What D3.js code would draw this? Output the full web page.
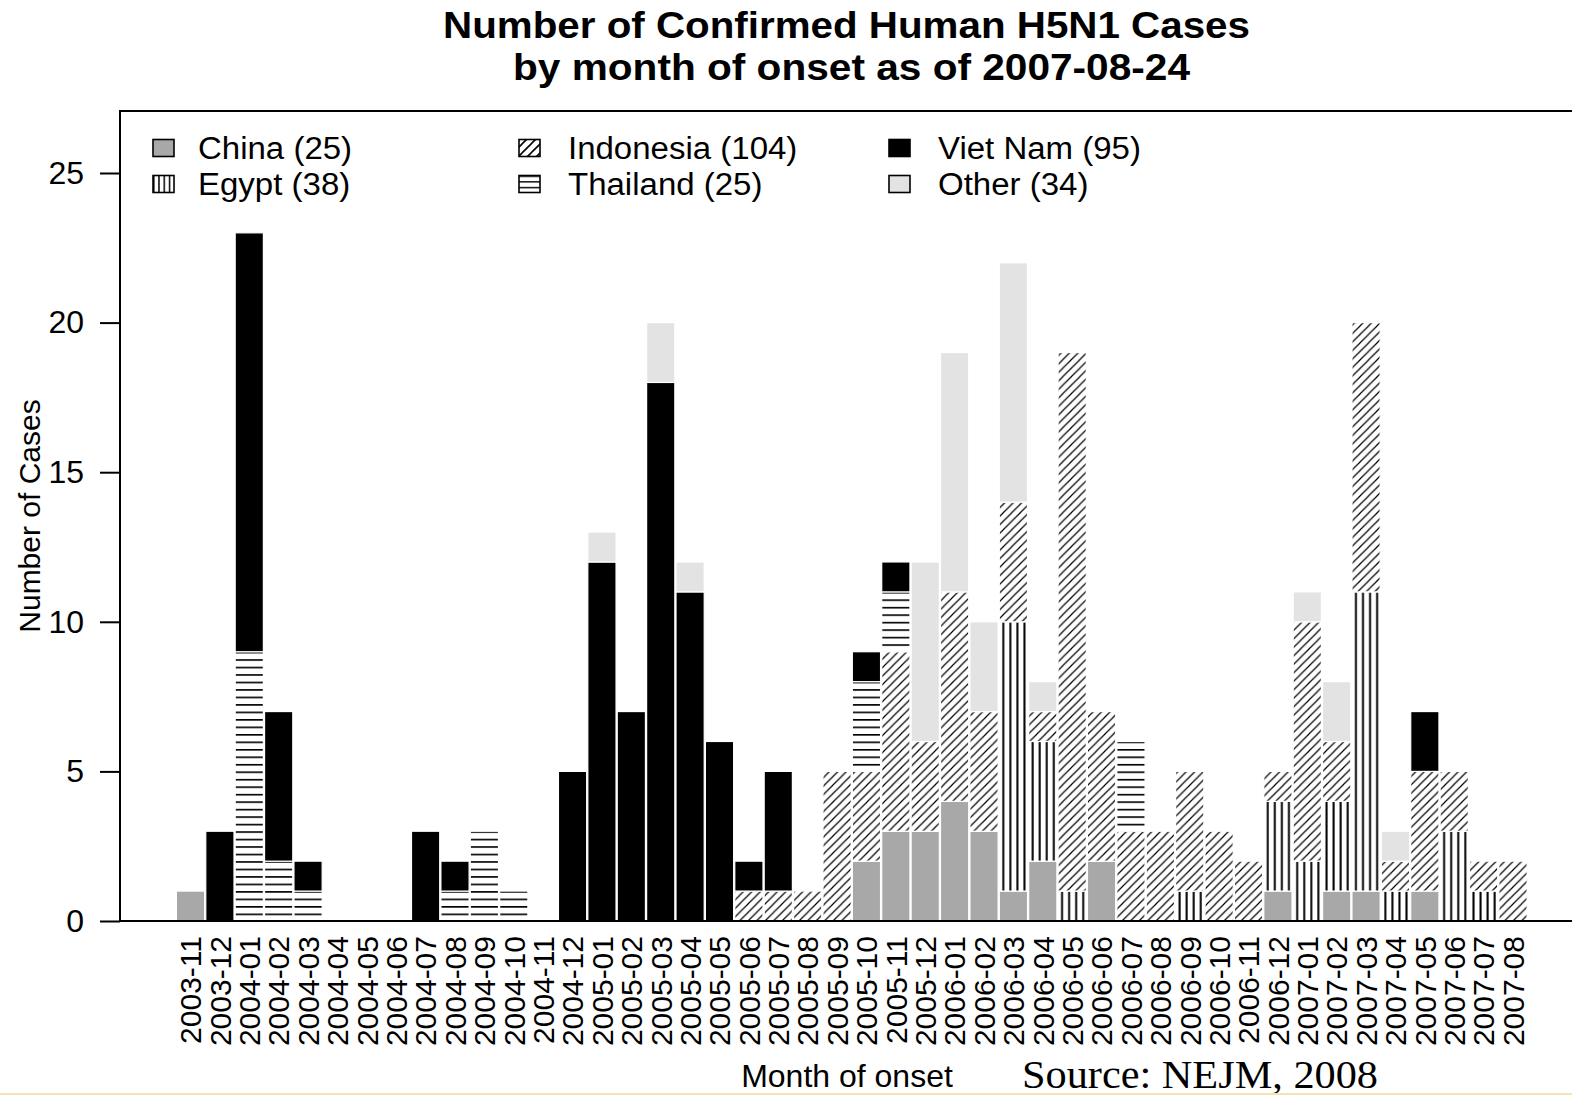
<!DOCTYPE html>
<html>
<head>
<meta charset="utf-8">
<script src="https://cdn.jsdelivr.net/npm/d3@7/dist/d3.min.js"></script>
<style>
  html, body { margin: 0; padding: 0; background: #fff; }
  svg { display: block; }
  text { fill: #000; }
</style>
</head>
<body>
<svg id="chart" width="1572" height="1096"></svg>
<script>
// ---- Data ----
const months = ["2003-11","2003-12","2004-01","2004-02","2004-03","2004-04","2004-05","2004-06","2004-07","2004-08",
  "2004-09","2004-10","2004-11","2004-12","2005-01","2005-02","2005-03","2005-04","2005-05","2005-06",
  "2005-07","2005-08","2005-09","2005-10","2005-11","2005-12","2006-01","2006-02","2006-03","2006-04",
  "2006-05","2006-06","2006-07","2006-08","2006-09","2006-10","2006-11","2006-12","2007-01","2007-02",
  "2007-03","2007-04","2007-05","2007-06","2007-07","2007-08"];

const china     = [1,0,0,0,0,0,0,0,0,0, 0,0,0,0,0,0,0,0,0,0, 0,0,0,2,3,3,4,3,1,2, 0,2,0,0,0,0,0,1,0,1, 1,0,1,0,0,0];
const egypt     = [0,0,0,0,0,0,0,0,0,0, 0,0,0,0,0,0,0,0,0,0, 0,0,0,0,0,0,0,0,9,4, 1,0,0,0,1,0,0,3,2,3, 10,1,0,3,1,0];
const indonesia = [0,0,0,0,0,0,0,0,0,0, 0,0,0,0,0,0,0,0,0,1, 1,1,5,3,6,3,7,4,4,1, 18,5,3,3,4,3,2,1,8,2, 9,1,4,2,1,2];
const thailand  = [0,0,9,2,1,0,0,0,0,1, 3,1,0,0,0,0,0,0,0,0, 0,0,0,3,2,0,0,0,0,0, 0,0,3,0,0,0,0,0,0,0, 0,0,0,0,0,0];
const vietnam   = [0,3,14,5,1,0,0,0,3,1, 0,0,0,5,12,7,18,11,6,1, 4,0,0,1,1,0,0,0,0,0, 0,0,0,0,0,0,0,0,0,0, 0,0,2,0,0,0];
const other     = [0,0,0,0,0,0,0,0,0,0, 0,0,0,0,1,0,2,1,0,0, 0,0,0,0,0,6,8,3,8,1, 0,0,0,0,0,0,0,0,1,2, 0,1,0,0,0,0];

const seriesNames = ["China","Egypt","Indonesia","Thailand","Viet Nam","Other"];
const seriesValues = [china, egypt, indonesia, thailand, vietnam, other];
const yTicks = [0,5,10,15,20,25];

const titleLines = ["Number of Confirmed Human H5N1 Cases", "by month of onset as of 2007-08-24"];
const xTitle = "Month of onset";
const yTitle = "Number of Cases";
const sourceText = "Source: NEJM, 2008";

// ---- Layout ----
const W = 1572, H = 1096;
const plotLeft = 120, plotTop = 111, plotBottom = 921;
const SANS = '"Liberation Sans", Arial, sans-serif';
const SERIF = '"Liberation Serif", "Times New Roman", serif';
const svg = d3.select("#chart");

const x = d3.scaleBand().domain(months).range([175.8, 1527.7]).paddingInner(0.04).paddingOuter(0.02);
const y = d3.scaleLinear().domain([0, 25]).range([plotBottom, 173]);

const table = months.map((m, i) => {
  const row = { month: m };
  seriesNames.forEach((s, k) => row[s] = seriesValues[k][i]);
  return row;
});
const stack = d3.stack().keys(seriesNames)(table);

// ---- Patterns ----
const defs = svg.append("defs");
const unitPx = y(0) - y(1);
const ph = defs.append("pattern").attr("id", "pHoriz").attr("patternUnits", "userSpaceOnUse")
  .attr("x", 0).attr("y", y(0)).attr("width", 40).attr("height", unitPx / 4);
ph.append("rect").attr("width", 40).attr("height", unitPx / 4).attr("fill", "#fff");
ph.append("line").attr("x1", 0).attr("x2", 40).attr("y1", 0.8).attr("y2", 0.8).attr("stroke", "#000").attr("stroke-width", 1.7);

const pv = defs.append("pattern").attr("id", "pVert").attr("patternUnits", "objectBoundingBox")
  .attr("x", 0).attr("y", 0).attr("width", 0.25).attr("height", 1);
pv.append("rect").attr("width", 20).attr("height", 2000).attr("fill", "#fff");
pv.append("line").attr("x1", 4).attr("x2", 4).attr("y1", 0).attr("y2", 2000).attr("stroke", "#000").attr("stroke-width", 2);

const dp = 8.5;
const pd = defs.append("pattern").attr("id", "pDiag").attr("patternUnits", "userSpaceOnUse")
  .attr("x", 0).attr("y", y(0)).attr("width", dp).attr("height", dp);
pd.append("rect").attr("width", dp).attr("height", dp).attr("fill", "#fff");
pd.append("path").attr("d", `M0,${dp} L${dp},0 M${-dp/2},${dp/2} L${dp/2},${-dp/2} M${dp/2},${dp*1.5} L${dp*1.5},${dp/2}`)
  .attr("stroke", "#000").attr("stroke-width", 1.2).attr("fill", "none");

const lv = defs.append("pattern").attr("id", "lVert").attr("patternUnits", "objectBoundingBox")
  .attr("width", 0.25).attr("height", 1);
lv.append("rect").attr("width", 20).attr("height", 40).attr("fill", "#fff");
lv.append("line").attr("x1", 0).attr("x2", 0).attr("y1", 0).attr("y2", 40).attr("stroke", "#000").attr("stroke-width", 3);
const lh = defs.append("pattern").attr("id", "lHoriz").attr("patternUnits", "objectBoundingBox")
  .attr("width", 1).attr("height", 1/3);
lh.append("rect").attr("width", 40).attr("height", 20).attr("fill", "#fff");
lh.append("line").attr("x1", 0).attr("x2", 40).attr("y1", 0).attr("y2", 0).attr("stroke", "#000").attr("stroke-width", 3);
const ld = defs.append("pattern").attr("id", "lDiag").attr("patternUnits", "userSpaceOnUse")
  .attr("width", 9).attr("height", 9);
ld.append("rect").attr("width", 9).attr("height", 9).attr("fill", "#fff");
ld.append("path").attr("d", "M0,9 L9,0 M-4.5,4.5 L4.5,-4.5 M4.5,13.5 L13.5,4.5")
  .attr("stroke", "#000").attr("stroke-width", 1.6).attr("fill", "none");

const fills = {
  "China": "#a8a8a8", "Egypt": "url(#pVert)", "Indonesia": "url(#pDiag)",
  "Thailand": "url(#pHoriz)", "Viet Nam": "#000", "Other": "#e3e3e3"
};
const legendFills = {
  "China": "#a8a8a8", "Egypt": "url(#lVert)", "Indonesia": "url(#lDiag)",
  "Thailand": "url(#lHoriz)", "Viet Nam": "#000", "Other": "#e3e3e3"
};

// ---- Bars ----
const gBars = svg.append("g");
stack.forEach(layer => {
  gBars.append("g").selectAll("rect")
    .data(layer.filter(d => d[1] - d[0] > 0))
    .join("rect")
    .attr("x", d => x(d.data.month))
    .attr("y", d => y(d[1]))
    .attr("width", x.bandwidth())
    .attr("height", d => y(d[0]) - y(d[1]))
    .attr("fill", fills[layer.key])
    .attr("stroke", "#fff")
    .attr("stroke-width", 1.2);
});

// ---- Box ----
svg.append("path")
  .attr("d", `M1580,${plotTop} H${plotLeft} V${plotBottom} H1580`)
  .attr("fill", "none").attr("stroke", "#000").attr("stroke-width", 2);

// ---- Y axis ----
const yAxis = d3.axisLeft(y).tickValues(yTicks).tickSize(20).tickPadding(16);
const gy = svg.append("g").attr("transform", `translate(${plotLeft},0)`).call(yAxis);
gy.select(".domain").remove();
gy.selectAll(".tick line").attr("stroke", "#000").attr("stroke-width", 2);
gy.selectAll(".tick text").attr("font-size", 32).style("font-family", SANS).attr("fill", "#000");

// ---- X labels ----
const xAxis = d3.axisBottom(x).tickSize(0).tickPadding(0);
const gx = svg.append("g").attr("transform", `translate(0,${plotBottom})`).call(xAxis);
gx.select(".domain").remove();
gx.selectAll(".tick text")
  .attr("font-size", 30)
  .style("font-family", SANS)
  .attr("fill", "#000")
  .attr("transform", "rotate(-90)")
  .attr("text-anchor", "end")
  .attr("x", -15)
  .attr("y", 0)
  .attr("dy", "0.36em");

// ---- Titles ----
svg.append("text").attr("x", 443).attr("y", 38)
  .attr("textLength", 807).attr("lengthAdjust", "spacingAndGlyphs")
  .style("font-family", SANS).attr("font-size", 37.5).attr("font-weight", "bold").text(titleLines[0]);
svg.append("text").attr("x", 513).attr("y", 80)
  .attr("textLength", 677).attr("lengthAdjust", "spacingAndGlyphs")
  .style("font-family", SANS).attr("font-size", 37.5).attr("font-weight", "bold").text(titleLines[1]);

svg.append("text").attr("transform", `translate(40,516) rotate(-90)`).attr("text-anchor", "middle")
  .style("font-family", SANS).attr("font-size", 30).text(yTitle);

svg.append("text").attr("x", 847).attr("y", 1087).attr("text-anchor", "middle")
  .style("font-family", SANS).attr("font-size", 32).text(xTitle);

svg.append("text").attr("x", 1022).attr("y", 1088)
  .attr("textLength", 356).attr("lengthAdjust", "spacingAndGlyphs")
  .style("font-family", SERIF).attr("font-size", 40).text(sourceText);

// ---- Legend ----
const legendBoxX = [153, 519, 889];
const legendTextX = [198, 568, 938];
const legendRows = [148, 184];
seriesNames.forEach((s, k) => {
  const col = Math.floor(k / 2), row = k % 2;
  const total = d3.sum(seriesValues[k]);
  const label = `${s} (${total})`;
  svg.append("rect").attr("x", legendBoxX[col]).attr("y", legendRows[row] - 8.5).attr("width", 21).attr("height", 17)
    .attr("fill", legendFills[s]).attr("stroke", "#000").attr("stroke-width", 1.6);
  const t = svg.append("text").attr("x", legendTextX[col]).attr("y", legendRows[row]).attr("dy", "0.36em")
    .style("font-family", SANS).attr("font-size", 31)
    .text(label);
  // stretch to the reference's wider letter widths (about 33px Arial metrics)
  const w = t.node().getComputedTextLength();
  t.attr("textLength", w * 33 / 31).attr("lengthAdjust", "spacingAndGlyphs");
});

// faint bottom line
svg.append("line").attr("x1", 0).attr("x2", W).attr("y1", 1094).attr("y2", 1094)
  .attr("stroke", "#f3e4ae").attr("stroke-width", 2);
</script>
</body>
</html>
